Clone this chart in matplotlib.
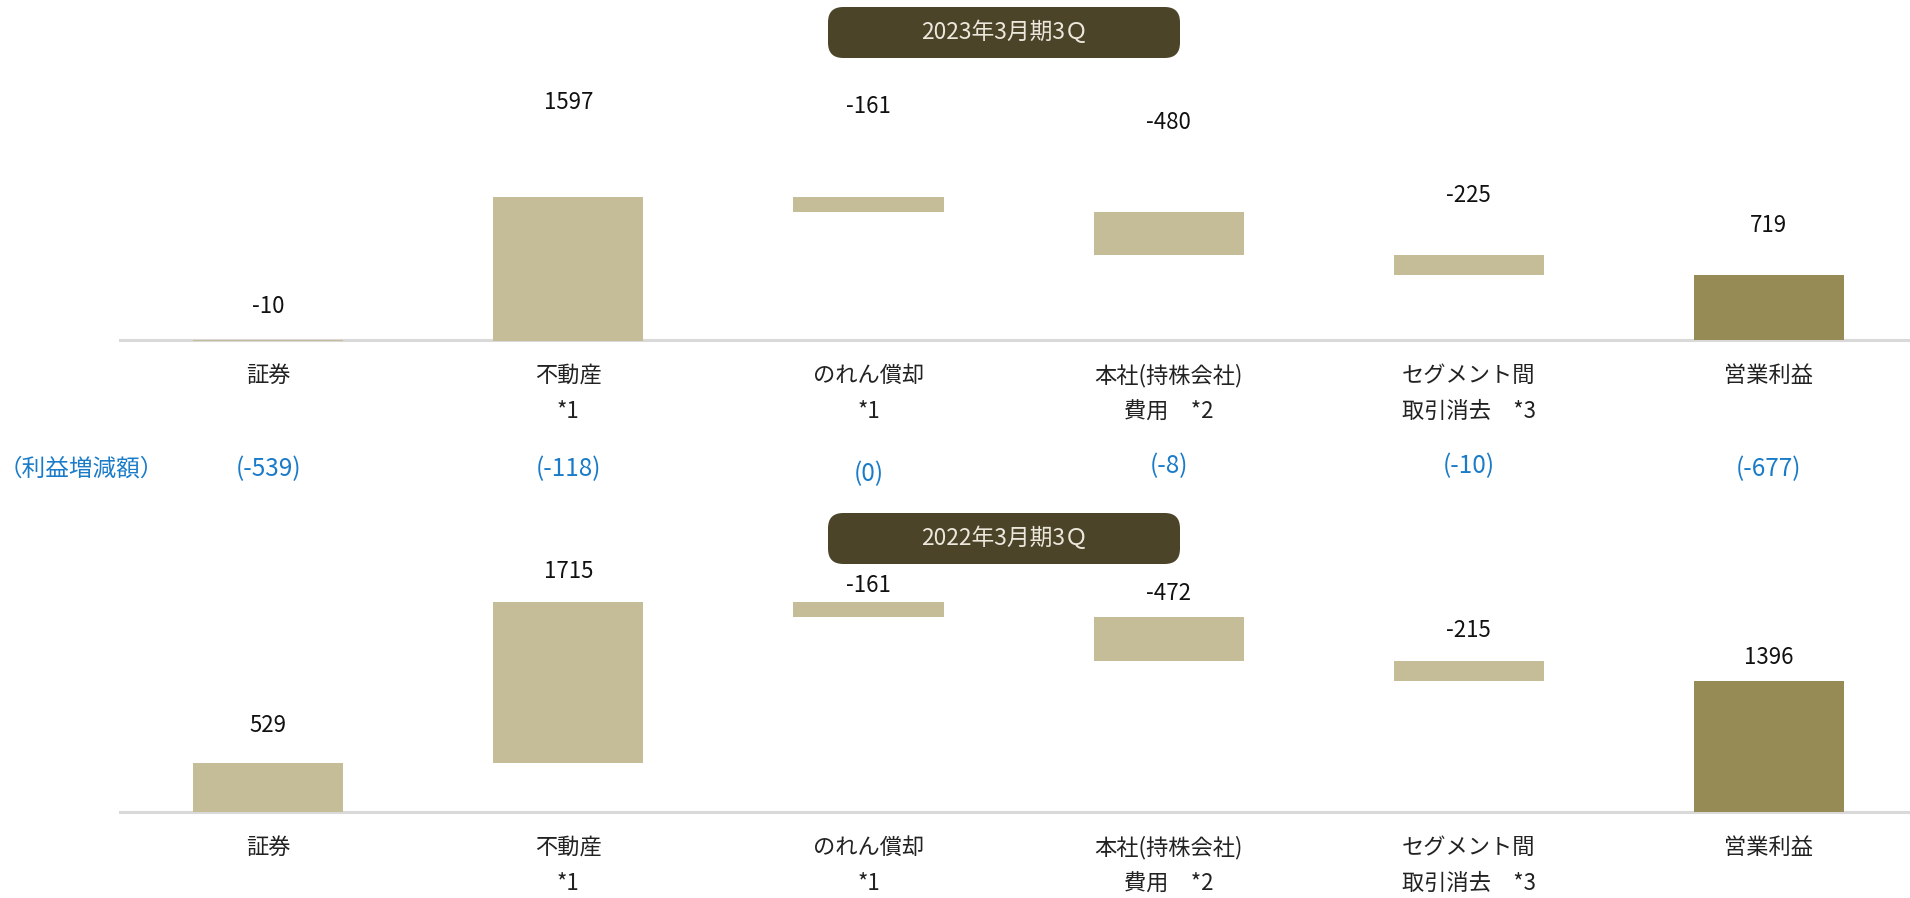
import matplotlib
matplotlib.use("Agg")
import matplotlib.pyplot as plt
from matplotlib.patches import FancyBboxPatch
import numpy as np

plt.rcParams['font.family'] = ['Noto Sans CJK JP', 'DejaVu Sans']

# ---- data ----
categories = ["証券", "不動産\n*1", "のれん償却\n*1", "本社(持株会社)\n費用　*2",
              "セグメント間\n取引消去　*3", "営業利益"]
steps_2023 = [-10, 1597, -161, -480, -225]
total_2023 = 719
steps_2022 = [529, 1715, -161, -472, -215]
total_2022 = 1396
diff_label = "（利益増減額）"
diffs = ["(-539)", "(-118)", "(0)", "(-8)", "(-10)", "(-677)"]
title_2023 = "2023年3月期3Ｑ"
title_2022 = "2022年3月期3Ｑ"

# ---- style ----
W, H = 1910, 898
LIGHT = "#c5bd98"
DARK = "#968b55"
BOX = "#4b4429"
BLUE = "#1a7bc9"
label_off_2023 = [24, 68, 65, 64, 43, 36]   # points above bar top
label_off_2022 = [27, 22, 12, 17, 22, 17]
diff_y_px = [469, 469, 474, 466, 466, 469]

fig = plt.figure(figsize=(W / 100, H / 100), dpi=100)


def rect(left, top, right, bottom):
    return [left / W, 1 - bottom / H, (right - left) / W, (bottom - top) / H]


def waterfall(ax, steps, total, offsets):
    starts = np.concatenate([[0], np.cumsum(steps)[:-1]])
    ends = np.cumsum(steps)
    lows = np.minimum(starts, ends)
    heights = np.abs(np.array(steps))
    x = np.arange(len(steps))
    ax.bar(x, heights, bottom=lows, width=0.5, color=LIGHT, zorder=2)
    ax.bar([len(steps)], [total], width=0.5, color=DARK, zorder=2)
    tops = list(np.maximum(starts, ends)) + [total]
    vals = list(steps) + [total]
    for i, (t, v, o) in enumerate(zip(tops, vals, offsets)):
        ax.annotate(f"{v}", (i, t), xytext=(0, o), textcoords="offset points",
                    ha="center", va="center", fontsize=16, color="#111111")
    ax.axhline(0, color="#d9d9d9", lw=2.2, zorder=1)
    ax.set_xlim(-0.497, 5.47)
    ax.set_xticks(range(len(categories)))
    ax.set_xticklabels(categories, fontsize=16, color="#222222", linespacing=1.75)
    ax.tick_params(axis="x", length=0, pad=10)
    ax.set_yticks([])
    for s in ax.spines.values():
        s.set_visible(False)
    ax.patch.set_alpha(0)


# top chart: zero at 340px, scale 0.09 px/unit
s1 = 0.09
ax1 = fig.add_axes(rect(119, 60, 1910, 350))
waterfall(ax1, steps_2023, total_2023, label_off_2023)
ax1.set_ylim(-(350 - 340) / s1, (340 - 60) / s1)

# bottom chart: zero at 812px, scale 0.0935 px/unit
s2 = 0.0935
ax2 = fig.add_axes(rect(119, 470, 1910, 822))
waterfall(ax2, steps_2022, total_2022, label_off_2022)
ax2.set_ylim(-(822 - 812) / s2, (812 - 470) / s2)

# blue difference row
fig.text(81 / W, 1 - 469 / H, diff_label, color=BLUE, fontsize=17,
         ha="center", va="center")
for i, (d, yp) in enumerate(zip(diffs, diff_y_px)):
    xp = ax1.transData.transform((i, 0))[0]
    fig.text(xp / W, 1 - yp / H, d, color=BLUE, fontsize=17.5, ha="center", va="center")


def title_box(top, bottom, text):
    left, right = 828, 1180
    box = FancyBboxPatch((left / W, 1 - bottom / H), (right - left) / W, (bottom - top) / H,
                         boxstyle="round,pad=0,rounding_size=0.008",
                         transform=fig.transFigure, facecolor=BOX, edgecolor="none",
                         mutation_aspect=W / H)
    fig.patches.append(box)
    fig.text((left + right) / 2 / W, 1 - (top + bottom) / 2 / H, text,
             color="#ece8dc", fontsize=16.4, ha="center", va="center")


title_box(7, 58, title_2023)
title_box(513, 564, title_2022)

fig.savefig("out.png", dpi=100, facecolor="white")
